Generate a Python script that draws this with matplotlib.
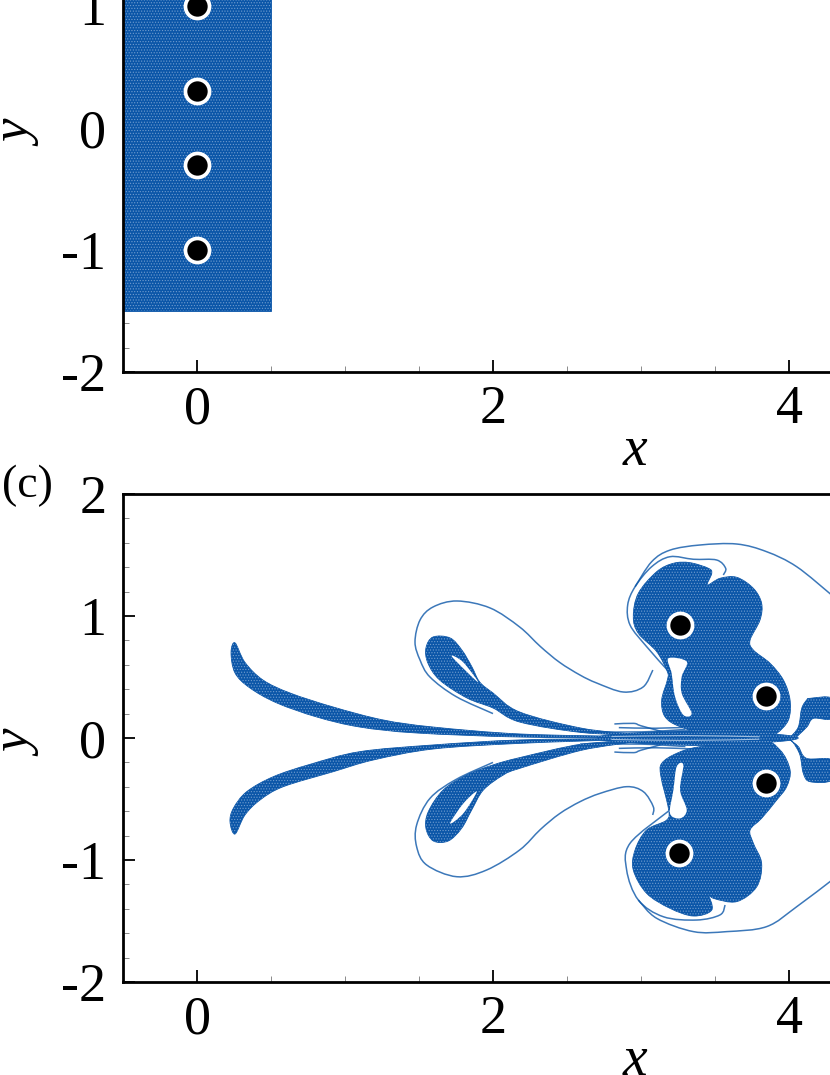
import numpy as np
import matplotlib
matplotlib.use("Agg")
import matplotlib.pyplot as plt
from matplotlib.patches import PathPatch
from matplotlib.path import Path

# cylinders
cyl_top_x = [0, 0, 0, 0]
cyl_top_y = [1.0, 0.3, -0.3, -1.0]
cyl_bot_x = [3.264, 3.845, 3.845, 3.257]
cyl_bot_y = [0.926, 0.344, -0.369, -0.943]

# initial particle block in panel (a)
block = [(-0.5, -1.5), (0.5, -1.5), (0.5, 1.5), (-0.5, 1.5)]

# particle cloud outlines
streak_up = [(0.257, 0.78), (0.324, 0.62), (0.446, 0.475), (0.628, 0.369), (0.92, 0.254), (1.257, 0.148),
             (1.595, 0.09), (2.18, 0.033), (2.9, 0.012), (2.9, 0.004), (2.18, 0.008), (1.486, 0.041),
             (1.10, 0.09), (0.81, 0.172), (0.54, 0.287), (0.358, 0.41), (0.257, 0.533), (0.23, 0.70)]
streak_dn = [(2.9, -0.004), (2.18, -0.016), (1.597, -0.057), (1.1, -0.112), (0.764, -0.216), (0.516, -0.317),
             (0.336, -0.44), (0.246, -0.576), (0.223, -0.686), (0.257, -0.787), (0.324, -0.631), (0.426, -0.508),
             (0.583, -0.399), (0.921, -0.276), (1.192, -0.18), (1.597, -0.09), (2.18, -0.044), (2.9, -0.012)]
drop_up = [(1.595, 0.828), (1.71, 0.82), (1.79, 0.72), (1.858, 0.582), (1.91, 0.459), (2.0, 0.369), (2.18, 0.213),
           (2.6, 0.08), (2.95, 0.03), (2.6, 0.045), (2.18, 0.131), (2.0, 0.246), (1.824, 0.328), (1.64, 0.475),
           (1.56, 0.615), (1.547, 0.738)]
drop_dn = [(2.95, -0.03), (2.6, -0.05), (2.18, -0.161), (2.0, -0.221), (1.822, -0.303), (1.664, -0.426),
           (1.563, -0.604), (1.547, -0.74), (1.597, -0.844), (1.698, -0.844), (1.788, -0.74), (1.856, -0.59),
           (1.935, -0.426), (2.07, -0.303), (2.18, -0.249), (2.6, -0.1)]
blob_up = [(3.331, 1.437), (3.455, 1.391), (3.478, 1.35), (3.448, 1.254), (3.534, 1.309), (3.647, 1.317),
           (3.759, 1.227), (3.815, 1.104), (3.804, 0.967), (3.737, 0.803), (3.759, 0.721), (3.872, 0.612),
           (3.962, 0.475), (4.007, 0.311), (3.996, 0.148), (3.917, 0.038), (3.849, 0.015), (3.5, 0.015),
           (3.264, 0.093), (3.162, 0.175), (3.14, 0.312), (3.178, 0.475), (3.178, 0.544), (3.106, 0.708),
           (2.982, 0.858), (2.948, 0.995), (2.982, 1.186), (3.106, 1.363), (3.219, 1.432)]
blob_dn = [(3.8, -0.015), (3.939, -0.098), (4.007, -0.262), (3.984, -0.399), (3.917, -0.508), (3.815, -0.658),
           (3.737, -0.754), (3.759, -0.863), (3.815, -1.027), (3.782, -1.219), (3.647, -1.341), (3.489, -1.314),
           (3.455, -1.273), (3.478, -1.41), (3.354, -1.459), (3.196, -1.396), (3.038, -1.273), (2.948, -1.082),
           (2.96, -0.918), (3.038, -0.754), (3.174, -0.672), (3.185, -0.577), (3.135, -0.317), (3.14, -0.208),
           (3.241, -0.126), (3.399, -0.071)]
right_up = [(4.007, 0.0), (4.063, 0.09), (4.086, 0.243), (4.12, 0.312), (4.142, 0.325), (4.29, 0.325),
            (4.29, 0.161), (4.165, 0.161), (4.12, 0.09), (4.04, 0.0)]
right_dn = [(4.007, -0.016), (4.063, -0.071), (4.119, -0.167), (4.29, -0.18), (4.29, -0.344), (4.142, -0.358),
            (4.097, -0.29), (4.074, -0.139), (4.03, -0.04)]
core = [(2.75, 0.02), (3.1, 0.05), (3.5, 0.06), (4.0, 0.02), (4.0, -0.02), (3.5, -0.06), (3.1, -0.05), (2.75, -0.02)]

# white gaps inside the clouds
gap_drop_up = [(1.72, 0.672), (1.797, 0.623), (1.90, 0.459), (1.824, 0.541)]
gap_drop_dn = [(1.71, -0.7), (1.80, -0.617), (1.89, -0.44), (1.80, -0.536)]
gap_blob_up = [(3.185, 0.653), (3.309, 0.626), (3.275, 0.503), (3.275, 0.366), (3.342, 0.202), (3.286, 0.189),
               (3.23, 0.339), (3.207, 0.53)]
gap_blob_dn = [(3.286, -0.221), (3.241, -0.235), (3.219, -0.426), (3.196, -0.617), (3.264, -0.659), (3.309, -0.59),
               (3.264, -0.426)]

# thin filaments
loop_up = [(2.0, 0.2), (1.75, 0.34), (1.574, 0.50), (1.507, 0.639), (1.473, 0.787), (1.507, 0.967), (1.595, 1.074),
           (1.757, 1.123), (1.98, 1.066), (2.18, 0.91), (2.32, 0.75), (2.45, 0.62), (2.588, 0.516), (2.70, 0.451),
           (2.88, 0.377), (3.014, 0.418), (3.08, 0.557)]
loop_dn = [(2.0, -0.2), (1.75, -0.34), (1.574, -0.495), (1.484, -0.713), (1.484, -0.891), (1.552, -1.041),
           (1.755, -1.137), (1.957, -1.082), (2.18, -0.918), (2.32, -0.75), (2.45, -0.62), (2.588, -0.522),
           (2.723, -0.454), (2.903, -0.399), (3.016, -0.44), (3.083, -0.563), (3.079, -0.631)]
shell_in_up = [(3.178, 0.557), (3.038, 0.749), (2.926, 0.926), (2.91, 1.09), (2.96, 1.24), (3.072, 1.404),
               (3.196, 1.486), (3.354, 1.465), (3.511, 1.459), (3.572, 1.391), (3.556, 1.336)]
shell_out_up = [(2.96, 1.24), (3.072, 1.445), (3.196, 1.54), (3.399, 1.582), (3.647, 1.59), (3.849, 1.527),
                (4.052, 1.404), (4.29, 1.17)]
shell_in_dn = [(3.185, -0.6), (2.926, -0.863), (2.903, -1.082), (2.982, -1.328), (3.151, -1.465), (3.376, -1.492),
               (3.534, -1.45), (3.568, -1.369)]
shell_out_dn = [(2.982, -1.328), (3.106, -1.478), (3.354, -1.587), (3.579, -1.587), (3.849, -1.546), (4.052, -1.383),
                (4.29, -1.165)]
whisp_1 = [(2.82, 0.115), (2.95, 0.12), (3.0, 0.10), (3.15, 0.05)]
whisp_2 = [(2.82, -0.115), (2.95, -0.12), (3.0, -0.10), (3.15, -0.05)]
whisp_3 = [(2.588, 0.05), (3.0, 0.05), (3.3, 0.07)]
whisp_4 = [(2.588, -0.05), (3.0, -0.05), (3.3, -0.07)]
whisp_5 = [(2.85, 0.085), (3.1, 0.08), (3.35, 0.09)]
whisp_6 = [(2.85, -0.085), (3.1, -0.08), (3.35, -0.09)]

# pale streaks through the dense band on the centreline
pale_1 = [(2.8, 0.012), (3.3, 0.02), (3.8, 0.01)]
pale_2 = [(2.8, -0.012), (3.3, -0.02), (3.8, -0.01)]

clouds = [streak_up, streak_dn, drop_up, drop_dn, blob_up, blob_dn, right_up, right_dn, core]
gaps = [gap_drop_up, gap_drop_dn, gap_blob_up, gap_blob_dn]
filaments = [loop_up, loop_dn, shell_in_up, shell_out_up, shell_in_dn, shell_out_dn,
             whisp_1, whisp_2, whisp_3, whisp_4, whisp_5, whisp_6]

blue = "#0b56a8"
plt.rcParams["font.family"] = "Liberation Serif"
plt.rcParams["axes.unicode_minus"] = False
plt.rcParams["hatch.linewidth"] = 0.5


def smooth_path(pts, closed=True):
    # bezier path through the read outline points, only to draw them without corners
    p = np.array(pts, dtype=float)
    n = len(p)
    if closed:
        prev, nxt = np.roll(p, 1, axis=0), np.roll(p, -1, axis=0)
    else:
        prev = np.vstack([p[0], p[:-1]])
        nxt = np.vstack([p[1:], p[-1]])
    tan = (nxt - prev) / 6.0
    verts = [p[0]]
    codes = [Path.MOVETO]
    for i in range(n if closed else n - 1):
        j = (i + 1) % n
        verts += [p[i] + tan[i], p[j] - tan[j], p[j]]
        codes += [Path.CURVE4] * 3
    return Path(verts, codes)


def add_cloud(ax, pts, smooth=True):
    path = smooth_path(pts) if smooth else Path(list(pts) + [pts[0]])
    ax.add_patch(PathPatch(path, fc=blue, ec=blue, lw=0.6, zorder=2))
    # white speckle of the particle cloud
    ax.add_patch(PathPatch(path, fill=False, ec="#6f9ccf", lw=0, hatch="......", zorder=2.1))


def style_axes(ax):
    ax.set_xlim(-0.5, 4.277)
    ax.set_ylim(-2, 2)
    ax.set_xticks([0, 2, 4])
    ax.set_xticklabels(["0", "2", "4"])
    ax.set_xticks([0.5, 1, 1.5, 2.5, 3, 3.5], minor=True)
    ax.set_yticks([-2, -1, 0, 1, 2])
    ax.set_yticklabels(["-2", "-1", "0", "1", "2"])
    ax.set_yticks(np.arange(-2, 2.01, 0.2), minor=True)
    ax.tick_params(which="major", direction="in", length=8.5, width=1.3, labelsize=39)
    ax.tick_params(axis="x", which="major", pad=9)
    ax.tick_params(axis="y", which="major", pad=12)
    ax.tick_params(which="minor", direction="in", length=4.5, width=0.6, color="#777777")
    ax.spines["right"].set_visible(False)
    for s in ["left", "bottom", "top"]:
        ax.spines[s].set_linewidth(2.0)
    ax.set_xlabel("x", style="italic", fontsize=40)
    ax.set_ylabel("y", style="italic", fontsize=38)
    ax.xaxis.set_label_coords(0.7245, -0.108)
    ax.yaxis.set_label_coords(-0.113, 0.488)


W, H = 830.0, 1075.0
fig = plt.figure(figsize=(8.3, 10.75), dpi=100)
ax_a = fig.add_axes([123 / W, (H - 372) / H, (W - 123) / W, 488 / H])
ax_c = fig.add_axes([123 / W, (H - 982) / H, (W - 123) / W, 488 / H])

add_cloud(ax_a, block, smooth=False)
for pts in clouds:
    add_cloud(ax_c, pts)
for pts in gaps:
    ax_c.add_patch(PathPatch(smooth_path(pts), fc="white", ec="none", zorder=3))
for pts in filaments:
    ax_c.add_patch(PathPatch(smooth_path(pts, closed=False), fill=False, ec=blue, lw=1.1, alpha=0.8, zorder=2))
for pts in [pale_1, pale_2]:
    ax_c.add_patch(PathPatch(smooth_path(pts, closed=False), fill=False, ec="#9dbde0", lw=0.8, zorder=2.2))

for ax, cx, cy in [(ax_a, cyl_top_x, cyl_top_y), (ax_c, cyl_bot_x, cyl_bot_y)]:
    ax.scatter(cx, cy, s=400, c="white", linewidths=0, zorder=4)
    ax.scatter(cx, cy, s=215, c="black", linewidths=0, zorder=5)
    style_axes(ax)

fig.text(2 / W, 1 - 497 / H, "(c)", fontsize=33, va="baseline", ha="left")
fig.savefig("out.png", dpi=100)
